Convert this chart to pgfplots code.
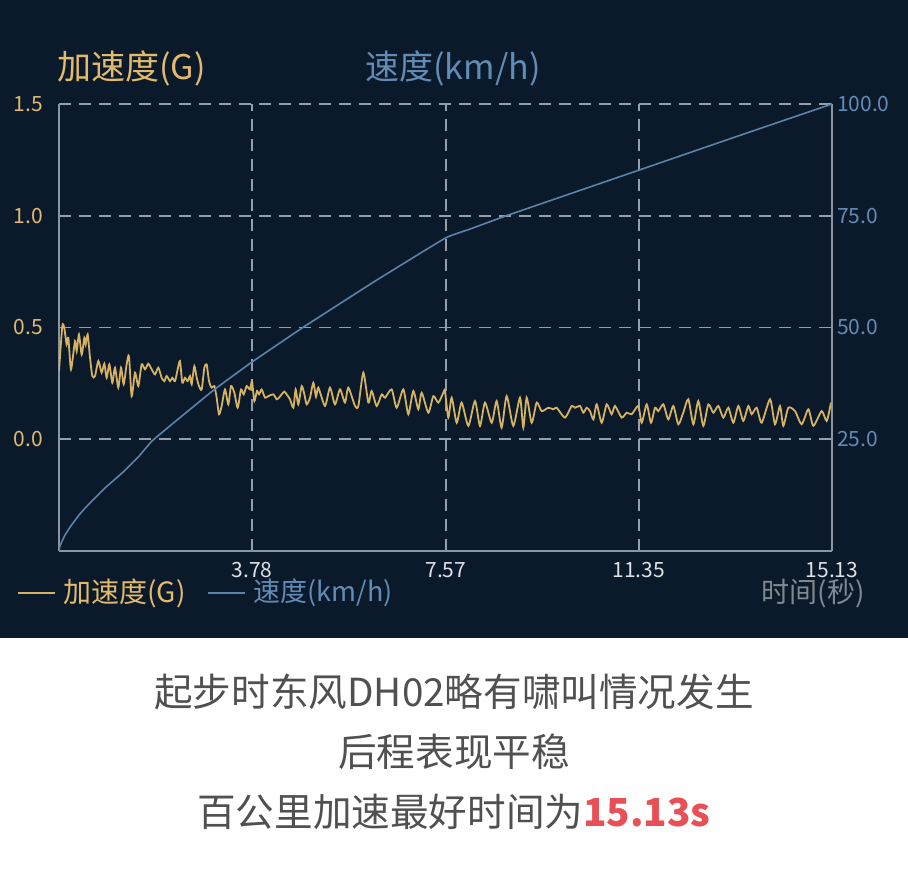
\documentclass[border=0pt]{standalone}
\usepackage{fontspec}
\setmainfont{Noto Sans CJK SC}
\usepackage{pgfplots}
\pgfplotsset{compat=1.18}
\usepackage{pgfplotstable}

\definecolor{bg}{RGB}{11,26,42}
\definecolor{gold}{RGB}{226,186,108}
\definecolor{goldline}{RGB}{214,178,98}
\definecolor{bluet}{RGB}{98,140,182}
\definecolor{blueline}{RGB}{92,130,170}
\definecolor{gridc}{RGB}{150,160,172}
\definecolor{axisc}{RGB}{140,150,162}
\definecolor{tickx}{RGB}{222,226,230}
\definecolor{timec}{RGB}{128,136,146}
\definecolor{capc}{RGB}{80,80,80}
\definecolor{redc}{RGB}{232,80,86}

\pgfplotstableread{
t g
0.000 0.305
0.065 0.506
0.104 0.498
0.150 0.424
0.183 0.454
0.235 0.313
0.313 0.439
0.346 0.394
0.391 0.469
0.444 0.379
0.496 0.454
0.522 0.424
0.561 0.469
0.607 0.365
0.652 0.283
0.705 0.283
0.770 0.350
0.835 0.298
0.887 0.338
0.933 0.275
0.985 0.335
1.044 0.253
1.096 0.320
1.161 0.231
1.214 0.320
1.266 0.246
1.324 0.335
1.370 0.372
1.422 0.193
1.488 0.298
1.553 0.238
1.618 0.335
1.683 0.313
1.748 0.338
1.814 0.313
1.879 0.290
1.944 0.320
2.010 0.275
2.062 0.260
2.107 0.283
2.173 0.260
2.218 0.275
2.270 0.260
2.323 0.313
2.368 0.350
2.414 0.253
2.466 0.275
2.518 0.260
2.564 0.283
2.597 0.246
2.649 0.327
2.695 0.275
2.740 0.238
2.793 0.223
2.845 0.320
2.890 0.335
2.936 0.260
2.988 0.231
3.040 0.238
3.086 0.186
3.132 0.112
3.184 0.149
3.249 0.223
3.314 0.156
3.367 0.238
3.432 0.208
3.497 0.141
3.562 0.223
3.615 0.201
3.673 0.238
3.738 0.223
3.778 0.260
3.823 0.171
3.875 0.216
3.915 0.201
3.967 0.223
4.032 0.186
4.097 0.193
4.195 0.201
4.260 0.179
4.306 0.186
4.358 0.201
4.410 0.213
4.456 0.201
4.521 0.179
4.587 0.141
4.632 0.223
4.684 0.156
4.750 0.238
4.802 0.201
4.848 0.156
4.913 0.186
4.978 0.253
5.030 0.190
5.076 0.231
5.206 0.149
5.304 0.231
5.402 0.156
5.500 0.223
5.598 0.164
5.663 0.231
5.794 0.149
5.859 0.149
5.957 0.298
6.055 0.164
6.120 0.216
6.218 0.149
6.316 0.201
6.381 0.186
6.511 0.223
6.609 0.141
6.740 0.223
6.837 0.112
6.935 0.216
7.033 0.134
7.099 0.208
7.229 0.119
7.327 0.193
7.425 0.164
7.522 0.208
7.555 0.216
7.620 0.097
7.686 0.186
7.784 0.074
7.881 0.164
8.012 0.060
8.142 0.171
8.240 0.060
8.338 0.164
8.469 0.074
8.566 0.171
8.664 0.052
8.762 0.193
8.892 0.060
9.023 0.186
9.088 0.052
9.154 0.186
9.252 0.074
9.350 0.164
9.448 0.126
9.578 0.141
9.676 0.134
9.741 0.141
9.904 0.097
10.035 0.149
10.100 0.141
10.198 0.149
10.263 0.119
10.328 0.141
10.393 0.126
10.459 0.089
10.524 0.156
10.622 0.074
10.720 0.156
10.817 0.112
10.883 0.149
11.013 0.097
11.111 0.119
11.209 0.112
11.339 0.149
11.405 0.074
11.503 0.156
11.587 0.074
11.666 0.141
11.731 0.126
11.829 0.156
11.926 0.089
12.024 0.149
12.122 0.067
12.220 0.120
12.318 0.179
12.416 0.067
12.513 0.171
12.611 0.060
12.709 0.156
12.807 0.119
12.905 0.149
13.003 0.097
13.101 0.141
13.199 0.074
13.297 0.149
13.394 0.082
13.492 0.149
13.558 0.112
13.656 0.141
13.753 0.074
13.917 0.179
14.014 0.067
14.112 0.149
14.177 0.060
14.275 0.141
14.406 0.126
14.536 0.067
14.667 0.134
14.765 0.060
14.928 0.126
15.026 0.082
15.110 0.164
}\acc

\pgfplotstableread{
t v
0.00 0.0
0.02 1.1
0.06 2.2
0.12 3.6
0.22 5.4
0.41 8.3
0.57 10.3
0.90 14.1
1.23 17.4
1.55 21.0
1.82 24.6
2.31 29.3
3.05 36.2
3.78 42.3
4.76 49.9
6.19 60.4
7.56 70.0
8.04 72.0
8.73 74.9
10.00 79.9
11.35 85.2
13.23 92.6
15.13 100.0
}\spd

\begin{document}
\begin{tikzpicture}
\begin{scope}[x=0.5pt,y=-0.5pt]
\fill[bg] (0,0) rectangle (908,638);
\fill[white] (0,638) rectangle (908,871);
\useasboundingbox (0,0) rectangle (908,871);
\end{scope}

\begin{axis}[
  at={(29.5pt,-275.5pt)}, anchor=south west,
  scale only axis, width=386.5pt, height=223.5pt,
  xmin=0, xmax=15.13, ymin=-0.5, ymax=1.5,
  axis x line*=bottom, axis y line*=left,
  axis line style={axisc, line width=1pt},
  xtick={3.78,7.57,11.35,15.13}, xticklabels={3.78,7.57,11.35,15.13},
  ytick={0,0.5,1,1.5}, yticklabels={0.0,0.5,1.0,1.5},
  major tick length=0pt,
  /pgf/number format/assume math mode=true,
  grid=major, grid style={gridc, dash pattern=on 6pt off 4pt, line width=0.9pt},
  x tick label style={font=\fontsize{10.5}{12}\selectfont, text=tickx, yshift=-2pt},
  y tick label style={font=\fontsize{10.5}{12}\selectfont, text=gold, xshift=-4.5pt},
]
\addplot[goldline, line width=0.9pt, smooth, tension=0.4] table[x=t,y=g] {\acc};
\end{axis}

\begin{axis}[
  at={(29.5pt,-275.5pt)}, anchor=south west,
  scale only axis, width=386.5pt, height=223.5pt,
  xmin=0, xmax=15.13, ymin=0, ymax=100,
  axis x line=none, axis y line*=right,
  axis line style={axisc, line width=1pt},
  ytick={25,50,75,100}, yticklabels={25.0,50.0,75.0,100.0},
  major tick length=0pt,
  /pgf/number format/assume math mode=true,
  y tick label style={font=\fontsize{10.5}{12}\selectfont, text=bluet, xshift=-1pt},
]
\addplot[blueline, line width=0.8pt, smooth, tension=0.2] table[x=t,y=v] {\spd};
\end{axis}

\begin{scope}[x=0.5pt,y=-0.5pt]
\node[anchor=west, inner sep=0, text=gold, font=\fontsize{17}{20}\selectfont] at (57,68) {加速度(G)};
\node[anchor=west, inner sep=0, text=bluet, font=\fontsize{17}{20}\selectfont] at (365,68) {速度(km/h)};
\draw[goldline, line width=0.9pt] (18,593) -- (55,593);
\node[anchor=west, inner sep=0, text=gold, font=\fontsize{14}{16}\selectfont] at (63,593) {加速度(G)};
\draw[blueline, line width=0.9pt] (208,593) -- (245,593);
\node[anchor=west, inner sep=0, text=bluet, font=\fontsize{13.5}{16}\selectfont] at (253,593) {速度(km/h)};
\node[anchor=east, inner sep=0, text=timec, font=\fontsize{14}{16}\selectfont] at (865,593) {时间(秒)};
\node[text=capc, font=\fontsize{19.3}{22}\selectfont] at (454,692) {起步时东风DH02略有啸叫情况发生};
\node[text=capc, font=\fontsize{19.3}{22}\selectfont] at (454,752) {后程表现平稳};
\node[text=capc, font=\fontsize{19.3}{22}\selectfont] at (454,812) {百公里加速最好时间为\textcolor{redc}{\bfseries 15.13s}};
\end{scope}
\end{tikzpicture}
\end{document}
